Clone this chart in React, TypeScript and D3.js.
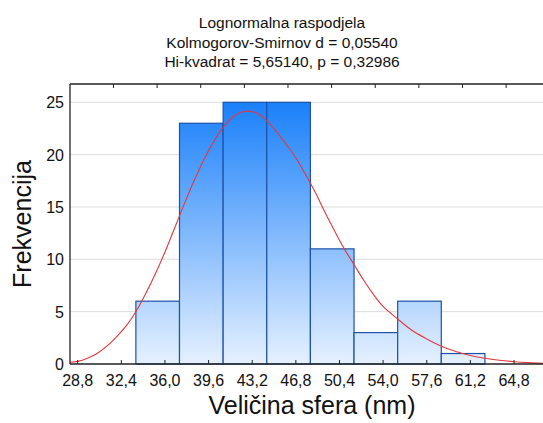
import { useEffect, useRef } from "react";
import * as d3 from "d3";

// histogram bins (nm) and counts
const binEdges = [33.6, 37.2, 40.8, 44.4, 48.0, 51.6, 55.2, 58.8, 62.4];
const counts = [6, 23, 25, 25, 11, 3, 6, 1];

// fitted lognormal curve
const curveX = [28.16, 28.8, 29.6, 30.4, 31.2, 32.0, 32.8, 33.6, 34.4, 35.2, 36.0, 36.8, 37.6, 38.4, 39.2, 40.0, 40.8, 41.6, 42.4, 43.0, 43.6, 44.4, 45.2, 46.0, 46.8, 47.6, 48.4, 49.2, 50.0, 50.8, 51.6, 52.4, 53.2, 54.0, 55.2, 56.4, 57.6, 58.8, 60.0, 61.2, 62.4, 63.6, 64.8, 66.0, 67.3];
const curveY = [0.16, 0.25, 0.55, 1.0, 1.7, 2.6, 3.65, 5.0, 6.7, 8.6, 10.7, 13.0, 15.3, 17.5, 19.5, 21.2, 22.6, 23.6, 24.1, 24.15, 23.95, 23.25, 22.2, 21.0, 19.7, 18.1, 16.4, 14.5, 12.7, 11.0, 9.5, 8.0, 6.65, 5.5, 4.3, 3.2, 2.4, 1.7, 1.2, 0.82, 0.55, 0.36, 0.22, 0.13, 0.07];

const xTicks = [28.8, 32.4, 36.0, 39.6, 43.2, 46.8, 50.4, 54.0, 57.6, 61.2, 64.8];
const topTicks = [31.75, 35.35, 38.95, 42.55, 46.15, 49.75, 53.35, 56.95, 60.55, 64.15];
const yTicks = [0, 5, 10, 15, 20, 25];

const titleLines = [
  "Lognormalna raspodjela",
  "Kolmogorov-Smirnov d = 0,05540",
  "Hi-kvadrat = 5,65140, p = 0,32986",
];

const W = 543;
const H = 423;
const font = "'Liberation Sans', Arial, sans-serif";

export default function App() {
  const svgRef = useRef<SVGSVGElement>(null);

  useEffect(() => {
    if (!svgRef.current) return;
    const svg = d3.select(svgRef.current);
    svg.selectAll("*").remove();

    const left = 70, right = 560, top = 84, bottom = 364;
    const x = d3.scaleLinear().domain([28.165, 28.165 + (right - left) / 12.12]).range([left, right]);
    const y = d3.scaleLinear().domain([0, 26.75]).range([bottom, top]);

    const defs = svg.append("defs");
    const grad = defs
      .append("linearGradient")
      .attr("id", "barGrad")
      .attr("gradientUnits", "userSpaceOnUse")
      .attr("x1", 0).attr("x2", 0)
      .attr("y1", y(25)).attr("y2", bottom);
    grad.append("stop").attr("offset", "0%").attr("stop-color", "#1a80fa");
    grad.append("stop").attr("offset", "100%").attr("stop-color", "#e6f1ff");

    // Gridlines
    svg.append("g")
      .selectAll("line")
      .data(yTicks.filter((t) => t > 0))
      .enter()
      .append("line")
      .attr("x1", left).attr("x2", W)
      .attr("y1", (d) => y(d)).attr("y2", (d) => y(d))
      .attr("stroke", "#dcdcdc")
      .attr("stroke-width", 1);

    // Bars
    svg.append("g")
      .selectAll("rect")
      .data(counts)
      .enter()
      .append("rect")
      .attr("x", (_d, i) => x(binEdges[i]))
      .attr("width", (_d, i) => x(binEdges[i + 1]) - x(binEdges[i]))
      .attr("y", (d) => y(d))
      .attr("height", (d) => bottom - y(d))
      .attr("fill", "url(#barGrad)")
      .attr("stroke", "#1d52a8")
      .attr("stroke-width", 1.2);

    // Fitted curve
    const line = d3
      .line<number>()
      .x((d) => x(d))
      .y((_d, i) => y(curveY[i]))
      .curve(d3.curveCatmullRom);
    svg.append("path")
      .attr("d", line(curveX))
      .attr("fill", "none")
      .attr("stroke", "#e4383e")
      .attr("stroke-width", 1.1);

    // Frame
    const frame = svg.append("g").attr("stroke", "#222").attr("stroke-width", 1.3);
    frame.append("line").attr("x1", left).attr("x2", W).attr("y1", top).attr("y2", top);
    frame.append("line").attr("x1", left).attr("x2", W).attr("y1", bottom).attr("y2", bottom);
    frame.append("line").attr("x1", left).attr("x2", left).attr("y1", top).attr("y2", bottom);

    // Ticks
    svg.append("g")
      .selectAll("line")
      .data(xTicks)
      .enter()
      .append("line")
      .attr("x1", (d) => x(d)).attr("x2", (d) => x(d))
      .attr("y1", bottom).attr("y2", bottom - 4)
      .attr("stroke", "#222");
    svg.append("g")
      .selectAll("line")
      .data(topTicks)
      .enter()
      .append("line")
      .attr("x1", (d) => x(d)).attr("x2", (d) => x(d))
      .attr("y1", top).attr("y2", top + 4)
      .attr("stroke", "#222");

    // Tick labels
    svg.append("g")
      .selectAll("text")
      .data(xTicks)
      .enter()
      .append("text")
      .attr("x", (d) => x(d))
      .attr("y", 386)
      .attr("text-anchor", "middle")
      .style("font-family", font)
      .style("font-size", "16px")
      .attr("fill", "#111")
      .text((d) => d.toFixed(1).replace(".", ","));

    svg.append("g")
      .selectAll("text")
      .data(yTicks)
      .enter()
      .append("text")
      .attr("x", 64)
      .attr("y", (d) => y(d) + 6)
      .attr("text-anchor", "end")
      .style("font-family", font)
      .style("font-size", "16px")
      .attr("fill", "#111")
      .text((d) => String(d));

    // Title
    svg.append("g")
      .selectAll("text")
      .data(titleLines)
      .enter()
      .append("text")
      .attr("x", 282)
      .attr("y", (_d, i) => 28 + i * 19.5)
      .attr("text-anchor", "middle")
      .style("font-family", font)
      .style("font-size", "15.5px")
      .attr("fill", "#111")
      .text((d) => d);

    // Axis titles
    svg.append("text")
      .attr("transform", `translate(31,224) rotate(-90)`)
      .attr("text-anchor", "middle")
      .style("font-family", font)
      .style("font-size", "25px")
      .attr("fill", "#111")
      .text("Frekvencija");

    svg.append("text")
      .attr("x", 312)
      .attr("y", 414)
      .attr("text-anchor", "middle")
      .style("font-family", font)
      .style("font-size", "25px")
      .attr("fill", "#111")
      .text("Veličina sfera (nm)");
  }, []);

  return (
    <div>
      <style>{`body{margin:0;}`}</style>
      <svg ref={svgRef} width={W} height={H} style={{ display: "block", background: "#fff" }} />
    </div>
  );
}
